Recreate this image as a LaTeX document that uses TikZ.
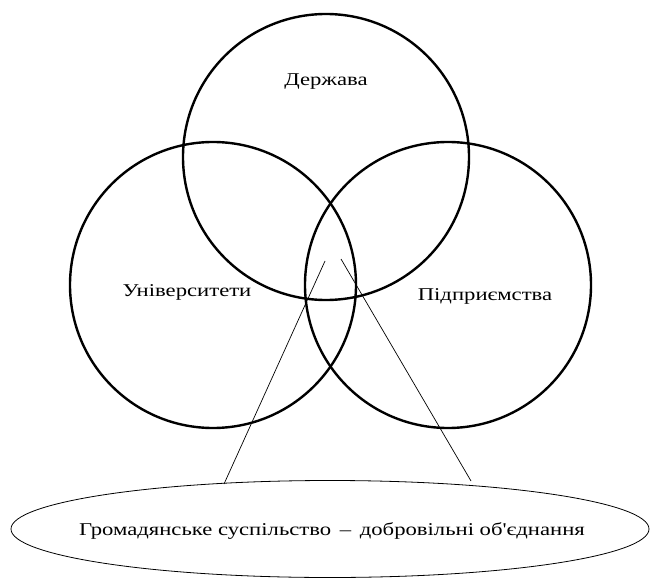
\documentclass[tikz,border=0pt]{standalone}
\usepackage{fontspec}
\setmainfont{Liberation Serif}
\newfontfamily\widefont[FakeStretch=1.26]{Liberation Serif}
\usetikzlibrary{shapes.geometric}
\begin{document}
\begin{tikzpicture}[x=1pt,y=-1pt,
  venn/.style={circle,draw,line width=2.4pt,minimum size=286pt,inner sep=0pt},
  lbl/.style={font=\widefont\fontsize{18}{20}\selectfont,inner sep=0pt},
  link/.style={draw,line width=0.7pt}]
\useasboundingbox (0,0) rectangle (650,580);
\node[venn] (state) at (326,157) {};
\node[venn] (univ) at (213,285) {};
\node[venn] (firm) at (448,285) {};
\node[ellipse,draw,line width=0.8pt,minimum width=638pt,minimum height=97pt,inner sep=0pt] (civil) at (330,529) {};
\node[lbl] at (326,82) {Держава};
\node[lbl] at (187,292) {Університети};
\node[lbl] at (485,296) {Підприємства};
\node[lbl] at (332,531) {Громадянське суспільство \,–\, добровільні об'єднання};
\coordinate (la) at (325,261);
\coordinate (ra) at (341,259);
\draw[link] (la) -- (224,484);
\draw[link] (ra) -- (471,481);
\end{tikzpicture}
\end{document}
